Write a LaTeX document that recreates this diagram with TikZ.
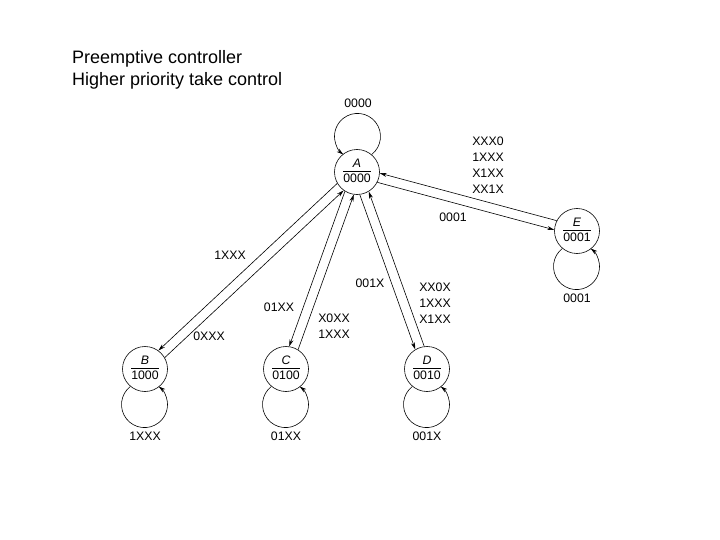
\documentclass[tikz,border=0pt]{standalone}
\usepackage{fontspec}
\setmainfont{Liberation Sans}
\usetikzlibrary{arrows.meta}
\begin{document}
\begin{tikzpicture}[x=1pt,y=-1pt,
  state/.style={circle,draw,line width=0.6pt,minimum size=45pt,inner sep=0pt,font=\fontsize{12.3}{14}\selectfont},
  lbl/.style={font=\fontsize{12.3}{16}\selectfont,inner sep=0pt,align=center},
  arr/.style={line width=0.6pt,-{Stealth[length=7pt,width=4pt]}},
  ttl/.style={font=\fontsize{18}{21.7}\selectfont,inner sep=0pt,anchor=north west,align=left}]
\useasboundingbox (0,0) rectangle (720,540);
\newcommand{\stlab}[2]{\begin{tabular}{@{}c@{}}\textit{#1}\\[-1pt]\hline\rule{0pt}{11pt}#2\end{tabular}}
\node[ttl] (title) at (72,50.5) {Preemptive controller\\Higher priority take control};

\node[state] (A) at (357,172) {\stlab{A}{0000}};
\node[state] (B) at (145,369) {\stlab{B}{1000}};
\node[state] (C) at (286,369) {\stlab{C}{0100}};
\node[state] (D) at (427,369) {\stlab{D}{0010}};
\node[state] (E) at (577,231) {\stlab{E}{0001}};

% self loops
\draw[arr] (A.50) arc[start angle=-52,end angle=232,radius=23pt];
\draw[arr] (B.230) arc[start angle=128,end angle=412,radius=23pt];
\draw[arr] (C.230) arc[start angle=128,end angle=412,radius=23pt];
\draw[arr] (D.230) arc[start angle=128,end angle=412,radius=23pt];
\draw[arr] (E.230) arc[start angle=128,end angle=412,radius=23pt];

% transitions
\draw[arr] (A.210.9) -- (B.54.9);
\draw[arr] (B.30.9) -- (A.234.9);
\draw[arr] (A.238.2) -- (C.82.2);
\draw[arr] (C.58.2) -- (A.262.2);
\draw[arr] (A.277.6) -- (D.121.6);
\draw[arr] (D.97.6) -- (A.301.6);
\draw[arr] (A.333) -- (E.177);
\draw[arr] (E.153) -- (A.357);

% labels
\node[lbl] (lA) at (358,103) {0000};
\node[lbl] (lEA) at (488,165) {XXX0\\1XXX\\X1XX\\XX1X};
\node[lbl] (lAE) at (453,217) {0001};
\node[lbl] (lE) at (577,298) {0001};
\node[lbl] (lAB) at (230,255) {1XXX};
\node[lbl] (lBA) at (209,336) {0XXX};
\node[lbl] (lB) at (145,436) {1XXX};
\node[lbl] (lAC) at (279,307) {01XX};
\node[lbl] (lCA) at (334,326) {X0XX\\1XXX};
\node[lbl] (lC) at (286,436) {01XX};
\node[lbl] (lAD) at (370,283) {001X};
\node[lbl] (lDA) at (435,303) {XX0X\\1XXX\\X1XX};
\node[lbl] (lD) at (427,436) {001X};
\end{tikzpicture}
\end{document}
